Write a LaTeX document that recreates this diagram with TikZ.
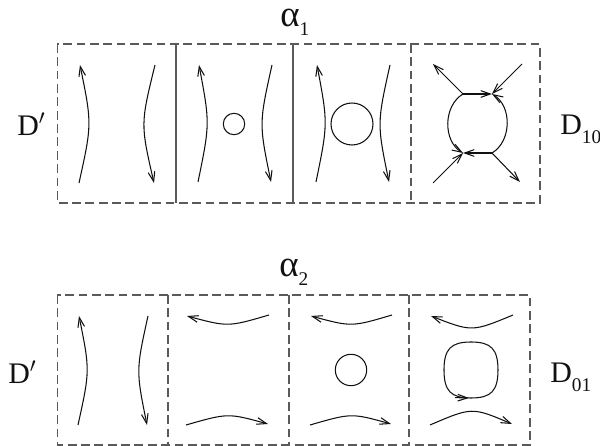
\documentclass[tikz,border=0pt]{standalone}
\usepackage{fontspec}
\setmainfont{Liberation Serif}
\usetikzlibrary{arrows.meta}
\definecolor{ink}{HTML}{111111}
\definecolor{rule}{HTML}{5A5A5A}
\newcommand{\lowsub}[1]{\raisebox{-0.3em}{\fontsize{11}{12}\selectfont #1}}
\newcommand{\bigalpha}{{\fontsize{21}{24}\selectfont α}}

\begin{document}
\begin{tikzpicture}[x=0.02cm,y=-0.02cm,
    flow/.style={draw=ink, line width=0.6pt, -{Straight Barb[length=5.5pt,width=3.8pt]}},
    curve/.style={draw=ink, line width=0.6pt},
    frame/.style={draw=rule, line width=0.6pt, dash pattern=on 5pt off 2.6pt},
    wall/.style={draw=rule, line width=0.6pt},
    lbl/.style={font=\fontsize{17}{20}\selectfont, text=ink, anchor=base west, inner sep=0pt}]
  \useasboundingbox (0,0) rectangle (600,446);

  % upper strip
  \draw[frame] (57.5,44) rectangle (540,203);
  \draw[wall] (176,44) -- (176,203);
  \draw[wall] (293,44) -- (293,203);
  \draw[frame] (411,44) -- (411,203);
  \node[lbl] (a1) at (280,27) {\bigalpha\lowsub{1}};
  \node[lbl] (dp1) at (17,136) {D$^{\prime}$};
  \node[lbl] (d10) at (560,135) {D\lowsub{10}};

  % pairs of vertical strands: left one up, right one down
  \foreach \xl/\cl/\xr/\cr/\yt/\yb in {
     79/92/155/140.5/65/183,
     198/210/272/259/65/182,
     316/328/390/377/65/182,
     78/90/148/136/316/425}
  {
    \draw[flow] (\xl,\yb) .. controls (\cl,{(\yt+\yb)/2}) .. (\xl+1,\yt);
    \draw[flow] (\xr,\yt) .. controls (\cr,{(\yt+\yb)/2}) .. (\xr-1,\yb);
  }
  \draw[curve] (234,124) circle (10.7);
  \draw[curve] (352,124) circle (21);

  % saddle
  \coordinate (tl) at (463,94);
  \coordinate (tr) at (492,94);
  \coordinate (bl) at (463,153);
  \coordinate (br) at (492,153);
  \coordinate (otl) at (433,64);
  \coordinate (otr) at (522,64);
  \coordinate (obl) at (433,183);
  \coordinate (obr) at (520,182);
  \draw[flow] (tl) -- (tr);
  \draw[flow] (br) -- (bl);
  \draw[flow] (tl) -- (otl);
  \draw[flow] (otr) -- (tr);
  \draw[flow] (obl) -- (bl);
  \draw[flow] (br) -- (obr);
  \draw[flow] (tl) .. controls (443,106) and (443,141) .. (bl);
  \draw[flow] (br) .. controls (512,141) and (512,106) .. (tr);

  % lower strip
  \draw[frame] (57.5,295) rectangle (530,445);
  \draw[frame] (168,295) -- (168,445);
  \draw[frame] (289,295) -- (289,445);
  \draw[frame] (409,295) -- (409,445);
  \node[lbl] (a2) at (279,277) {\bigalpha\lowsub{2}};
  \node[lbl] (dp2) at (8,384) {D$^{\prime}$};
  \node[lbl] (d01) at (550,383) {D\lowsub{01}};

  % pairs of horizontal strands: top one left, bottom one right
  \foreach \xa/\xb/\ct/\cb in {
     187/269/327/413,
     311/392/327/413,
     431/513/332/407}
  {
    \draw[flow] (\xb,315) .. controls ({(\xa+\xb)/2},\ct) .. (\xa,316);
    \draw[flow] (\xa-1,425) .. controls ({(\xa+\xb)/2},\cb) .. (\xb-1,424);
  }
  \draw[curve] (351,370) circle (15.7);
  % closed orbit
  \coordinate (ot) at (471,342);
  \coordinate (or) at (498,370);
  \coordinate (ob) at (471,398);
  \coordinate (ol) at (444,370);
  \draw[curve] (ot) .. controls (491,342) and (498,349) .. (or)
               .. controls (498,391) and (491,398) .. (ob)
               .. controls (451,398) and (444,391) .. (ol)
               .. controls (444,349) and (451,342) .. (ot);
  \draw[flow] (455,397.6) -- (469,398);
\end{tikzpicture}
\end{document}
